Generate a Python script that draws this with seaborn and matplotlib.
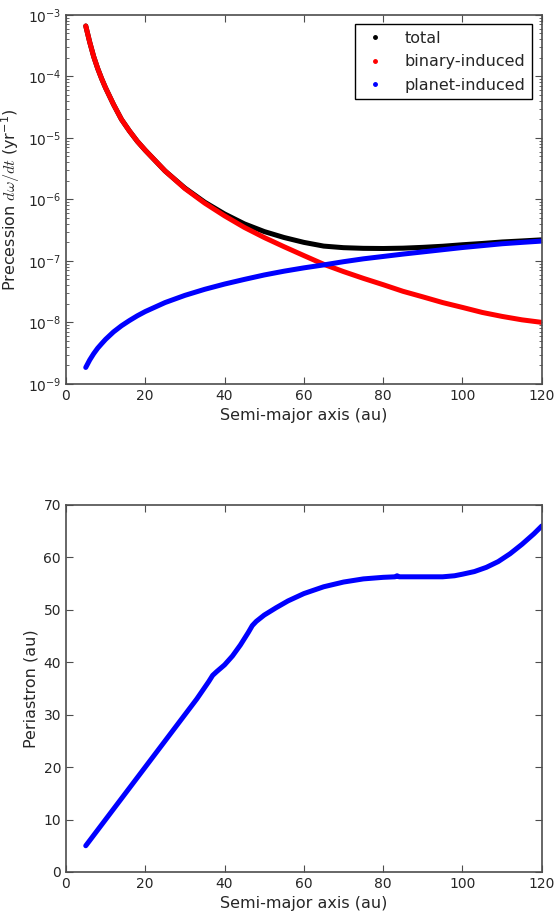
import seaborn as sns
import matplotlib.pyplot as plt
from matplotlib.lines import Line2D

# precession curves (yr^-1)
a_prec = [5, 6, 7, 8, 9, 10, 12, 14, 16, 18, 20, 25, 30, 35, 40, 45, 50, 55,
          60, 65, 70, 75, 80, 85, 90, 95, 100, 105, 110, 115, 120]
prec_total = [6.6e-4, 3.6e-4, 2.1e-4, 1.35e-4, 9.2e-5, 6.5e-5, 3.5e-5, 2.0e-5,
              1.3e-5, 8.8e-6, 6.3e-6, 2.9e-6, 1.53e-6, 9.0e-7, 5.8e-7, 4.0e-7,
              3.0e-7, 2.4e-7, 2.0e-7, 1.74e-7, 1.64e-7, 1.6e-7, 1.59e-7,
              1.61e-7, 1.66e-7, 1.73e-7, 1.83e-7, 1.92e-7, 2.03e-7, 2.11e-7, 2.2e-7]
prec_binary = [6.6e-4, 3.6e-4, 2.1e-4, 1.35e-4, 9.2e-5, 6.5e-5, 3.5e-5, 2.0e-5,
               1.3e-5, 8.8e-6, 6.3e-6, 2.9e-6, 1.5e-6, 8.7e-7, 5.4e-7, 3.5e-7,
               2.4e-7, 1.7e-7, 1.22e-7, 8.8e-8, 6.7e-8, 5.2e-8, 4.1e-8, 3.2e-8,
               2.6e-8, 2.1e-8, 1.75e-8, 1.45e-8, 1.25e-8, 1.1e-8, 1.0e-8]
prec_planet = [1.85e-9, 2.45e-9, 3.1e-9, 3.8e-9, 4.5e-9, 5.3e-9, 7.0e-9, 8.8e-9,
               1.07e-8, 1.28e-8, 1.5e-8, 2.1e-8, 2.75e-8, 3.45e-8, 4.2e-8, 5.0e-8,
               5.9e-8, 6.8e-8, 7.7e-8, 8.6e-8, 9.7e-8, 1.08e-7, 1.18e-7, 1.29e-7,
               1.40e-7, 1.52e-7, 1.65e-7, 1.77e-7, 1.9e-7, 2.0e-7, 2.1e-7]
series_labels = ['total', 'binary-induced', 'planet-induced']
series_colors = ['black', 'red', 'blue']

# periastron (au)
a_peri = [5, 10, 15, 20, 25, 30, 33, 35, 36, 37, 38, 40, 42, 44, 46, 47, 48,
          50, 53, 56, 60, 65, 70, 75, 80, 83, 83.5, 84, 90, 95, 98, 100, 103,
          106, 109, 112, 115, 118, 120]
periastron = [5, 10, 15, 20, 25, 30, 33, 35.2, 36.3, 37.5, 38.2, 39.5, 41.2,
              43.3, 45.7, 47.0, 47.8, 49.0, 50.4, 51.7, 53.1, 54.4, 55.3, 55.9,
              56.2, 56.3, 56.5, 56.3, 56.3, 56.3, 56.5, 56.8, 57.3, 58.1, 59.2,
              60.7, 62.5, 64.5, 66.0]

sns.set_style('ticks')
plt.rcParams['font.family'] = ['DejaVu Sans']
plt.rcParams['mathtext.fontset'] = 'cm'
plt.rcParams['axes.edgecolor'] = '0.3'
plt.rcParams['axes.linewidth'] = 1.2

fig = plt.figure(figsize=(5.54, 9.14), dpi=100)
ax1 = fig.add_axes([0.119, 0.580, 0.859, 0.4037])
ax2 = fig.add_axes([0.119, 0.046, 0.859, 0.4015])

lw = 3.6
fs = 11.5
for vals, col in zip([prec_total, prec_binary, prec_planet], series_colors):
    sns.lineplot(x=a_prec, y=vals, ax=ax1, color=col, linewidth=lw,
                 solid_capstyle='round')
ax1.set_yscale('log')
ax1.set_xlim(0, 120)
ax1.set_ylim(1e-9, 1e-3)
ax1.set_xticks(range(0, 121, 20))
ax1.set_xlabel('Semi-major axis (au)', fontsize=fs)
ax1.set_ylabel(r'Precession $d\omega/dt$ (yr$\mathregular{^{-1}}$)', fontsize=fs)
ax1.yaxis.set_label_coords(-0.092, 0.5)

handles = [Line2D([], [], marker='.', ls='', color=c, markersize=5)
           for c in series_colors]
leg = ax1.legend(handles, series_labels, loc='upper right', fontsize=fs,
                 numpoints=1, fancybox=False, framealpha=1,
                 borderaxespad=0.6, borderpad=0.4, labelspacing=0.53,
                 handlelength=1.7, handletextpad=1.0)
leg.get_frame().set_edgecolor('black')
leg.get_frame().set_linewidth(1.0)

sns.lineplot(x=a_peri, y=periastron, ax=ax2, color='blue', linewidth=lw,
             solid_capstyle='round')
ax2.set_xlim(0, 120)
ax2.set_ylim(0, 70)
ax2.set_xticks(range(0, 121, 20))
ax2.set_yticks(range(0, 71, 10))
ax2.set_xlabel('Semi-major axis (au)', fontsize=fs)
ax2.set_ylabel('Periastron (au)', fontsize=fs)
ax2.yaxis.set_label_coords(-0.058, 0.5)

for ax in (ax1, ax2):
    ax.tick_params(which='both', direction='in', top=True, right=True,
                   labelsize=10, color='0.3')
    ax.tick_params(which='major', length=5)
    ax.tick_params(which='minor', length=2.5)

fig.savefig('out.png', dpi=100)
